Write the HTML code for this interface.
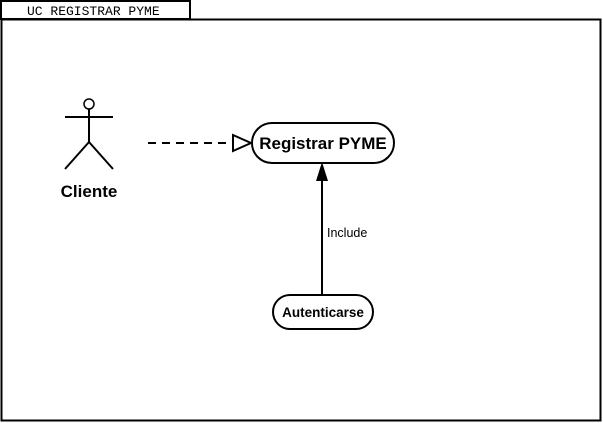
<!DOCTYPE html>
<html><head><meta charset="utf-8"><style>
html,body{margin:0;padding:0;background:#fff;width:603px;height:423px;overflow:hidden}
</style></head><body>
<svg width="603" height="423" xmlns="http://www.w3.org/2000/svg" font-family="'Liberation Sans',sans-serif">
<rect x="0" y="0" width="603" height="423" fill="#fff"/>
<rect x="1" y="1" width="189" height="18" fill="#fff" stroke="#000" stroke-width="2"/>
<text x="27" y="15" font-family="'Liberation Mono',monospace" font-size="13">UC REGISTRAR PYME</text>
<rect x="1.5" y="19.5" width="599" height="401" fill="none" stroke="#000" stroke-width="2"/>
<g stroke="#000" stroke-width="2" fill="none">
<circle cx="89" cy="104" r="5" stroke-width="1.5"/>
<line x1="89" y1="109" x2="89" y2="142"/>
<line x1="65" y1="117" x2="113" y2="117"/>
<line x1="89" y1="142" x2="65" y2="169"/>
<line x1="89" y1="142" x2="113" y2="169"/>
<line x1="148" y1="143" x2="233" y2="143" stroke-dasharray="8,6"/>
<polygon points="233,135 251,143 233,151" fill="#fff"/>
<rect x="252" y="123" width="142" height="40" rx="20" fill="#fff"/>
<line x1="322" y1="180" x2="322" y2="294"/>
<rect x="273" y="295" width="100" height="34" rx="17" fill="#fff"/>
</g>
<polygon points="322,162 316,181 328,181" fill="#000"/>
<text x="89" y="197" text-anchor="middle" font-weight="bold" font-size="17">Cliente</text>
<text x="323" y="149" text-anchor="middle" font-weight="bold" font-size="17">Registrar PYME</text>
<text x="327" y="237" font-size="12.5">Include</text>
<text x="323" y="317" text-anchor="middle" font-weight="bold" font-size="13.5">Autenticarse</text>
</svg>
</body></html>
